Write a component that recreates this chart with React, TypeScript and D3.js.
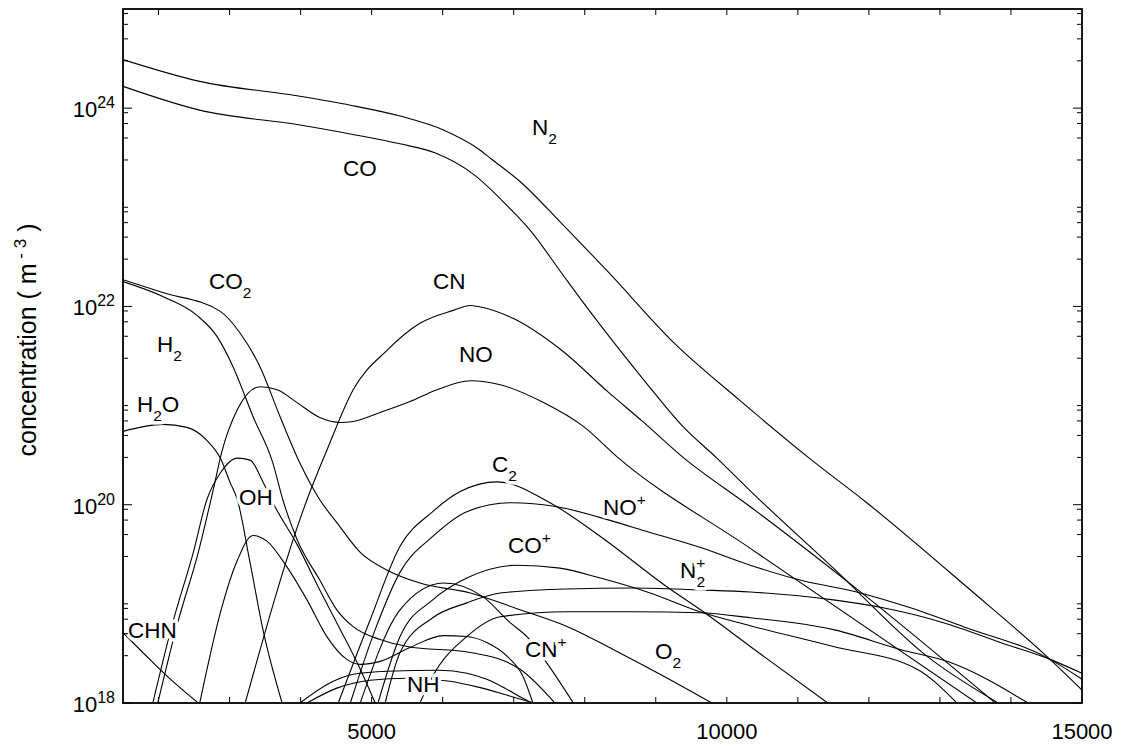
import React from 'react';
import * as d3 from 'd3';

// Each series: [temperature (K), log10 of concentration (m^-3)]
type Pt = [number, number];

const N2: Pt[] = [[1500,24.49],[2580,24.27],[3990,24.12],[4700,24.03],[5400,23.92],[6010,23.78],[6500,23.59],[6680,23.49],[7120,23.24],[7670,22.84],[8340,22.34],[9260,21.63],[10170,21.06],[11160,20.47],[11970,20.02],[13380,19.17],[14550,18.44],[15000,18.13]];
const CO: Pt[] = [[1500,24.22],[2580,23.98],[3990,23.83],[4700,23.74],[5400,23.64],[5890,23.55],[6440,23.33],[6930,23.00],[7230,22.77],[7670,22.34],[8030,21.99],[8830,21.26],[9380,20.79],[9860,20.47],[10330,20.14],[11500,19.36],[12820,18.47],[13820,18.0]];
const CO2: Pt[] = [[1500,22.27],[2060,22.14],[2870,21.95],[3150,21.73],[3430,21.39],[3710,20.89],[3990,20.42],[4270,20.05],[4510,19.82],[4840,19.52],[5220,19.34],[5680,19.21],[6390,19.11],[7090,18.94],[7790,18.76],[8400,18.54],[9060,18.29],[9790,18.0]];
const H2: Pt[] = [[1500,22.25],[2060,22.10],[2540,21.91],[2820,21.70],[3050,21.39],[3330,20.89],[3610,20.42],[3750,20.05],[3950,19.65],[4270,19.24],[4510,18.94],[4740,18.77],[5120,18.64],[5500,18.57],[6390,18.51],[7090,18.34],[7580,18.0]];
const H2O: Pt[] = [[1500,20.74],[2060,20.81],[2400,20.78],[2680,20.65],[2870,20.47],[3010,20.22],[3110,20.05],[3290,19.41],[3470,18.74],[3740,18.0]];
const OH: Pt[] = [[1920,18.0],[2200,18.81],[2490,19.52],[2680,20.05],[2870,20.32],[3110,20.47],[3290,20.45],[3470,20.23],[3640,19.98],[3950,19.60],[4270,19.14],[4560,18.74],[4840,18.34],[5050,18.0]];
const CN: Pt[] = [[3220,18.0],[4090,20.05],[4370,20.55],[4740,21.16],[5220,21.56],[5680,21.83],[6150,21.96],[6390,22.01],[6500,22.00],[6990,21.88],[7670,21.56],[8340,21.13],[8830,20.83],[9380,20.48],[10330,19.98],[11970,19.07],[13780,18.0]];
const NO: Pt[] = [[1990,18.0],[2270,18.81],[2560,19.52],[2770,20.15],[2890,20.53],[3110,20.96],[3430,21.19],[3670,21.16],[3950,21.03],[4270,20.88],[4560,20.83],[4740,20.84],[5120,20.93],[5540,21.04],[5920,21.16],[6390,21.25],[6810,21.21],[7420,21.03],[7980,20.79],[8460,20.48],[10330,19.56],[13520,18.0]];
const C2: Pt[] = [[4530,18.0],[4980,18.84],[5400,19.58],[5860,19.93],[6240,20.13],[6770,20.23],[7510,20.02],[8220,19.68],[9160,19.17],[9670,18.92],[10330,18.57],[11420,18.0]];
const NOp: Pt[] = [[4700,18.0],[5050,18.74],[5400,19.32],[5860,19.68],[6340,19.93],[6950,20.02],[7610,19.98],[8220,19.87],[8920,19.72],[9620,19.57],[10330,19.39],[11030,19.24],[11880,19.11],[12540,18.97],[13330,18.77],[14550,18.44],[15000,18.24]];
const N2p: Pt[] = [[5190,18.0],[5400,18.51],[5860,18.86],[6340,19.01],[6810,19.11],[7750,19.15],[8680,19.16],[9620,19.14],[10330,19.12],[11500,19.04],[12200,18.96],[13140,18.79],[13850,18.61],[14550,18.44],[15000,18.30]];
const COp: Pt[] = [[5090,18.0],[5400,18.67],[5860,19.04],[6340,19.26],[7050,19.39],[7650,19.36],[8220,19.26],[8920,19.11],[9620,18.92],[10330,18.78],[11500,18.57],[12680,18.34],[13240,18.0]];
const O2: Pt[] = [[5680,18.0],[5860,18.27],[6340,18.67],[6810,18.87],[7750,18.92],[8680,18.92],[9620,18.91],[10330,18.86],[11500,18.74],[12440,18.54],[13140,18.41],[14240,18.0]];
const CNp: Pt[] = [[4840,18.0],[5400,18.94],[6010,19.21],[6570,19.07],[6950,18.81],[7200,18.66],[7480,18.39],[7840,18.0]];
const NH: Pt[] = [[3990,18.0],[4460,18.22],[4740,18.29],[5220,18.32],[5960,18.33],[6340,18.30],[6620,18.24],[6900,18.14],[7150,18.04],[7260,18.0]];
const NH2: Pt[] = [[4090,18.0],[4510,18.15],[4980,18.23],[5500,18.25],[6100,18.22],[6500,18.16],[6900,18.08],[7280,18.0]];
const CHN: Pt[] = [[1500,18.71],[1920,18.41],[2230,18.20],[2560,18.0]];
const CH: Pt[] = [[2580,18.0],[2870,18.91],[3110,19.44],[3330,19.69],[3530,19.63],[3810,19.37],[4090,19.04],[4370,18.67],[4650,18.44],[4840,18.39],[5120,18.42],[5540,18.56],[6010,18.68],[6340,18.67],[6620,18.61],[6910,18.47],[7130,18.27],[7270,18.0]];

const series: Pt[][] = [N2, CO, CO2, H2, H2O, OH, CN, NO, C2, NOp, N2p, COp, O2, CNp, NH, NH2, CHN, CH];

// Labels: main text, subscript, superscript, anchor [T, log10 conc]
type Lab = { t: string; sub?: string; sup?: string; t2?: string; at: Pt };
const labels: Lab[] = [
  { t: 'N', sub: '2', at: [7258, 23.73] },
  { t: 'CO', at: [4597, 23.32] },
  { t: 'CO', sub: '2', at: [2711, 22.18] },
  { t: 'H', sub: '2', at: [1979, 21.54] },
  { t: 'H', sub: '2', t2: 'O', at: [1697, 20.94] },
  { t: 'OH', at: [3133, 20.0] },
  { t: 'CN', at: [5864, 22.18] },
  { t: 'NO', at: [6230, 21.44] },
  { t: 'C', sub: '2', at: [6694, 20.33] },
  { t: 'NO', sup: '+', at: [8257, 19.90] },
  { t: 'CO', sup: '+', at: [6920, 19.51] },
  { t: 'N', sub: '2', sup: '+', at: [9341, 19.26] },
  { t: 'CN', sup: '+', at: [7159, 18.46] },
  { t: 'O', sub: '2', at: [8989, 18.44] },
  { t: 'NH', at: [5498, 18.11] },
  { t: 'CHN', at: [1570, 18.66] },
];

const xTickLabels = [5000, 10000, 15000];
const yLabelExps = [18, 20, 22, 24];

const W = 1125, H = 746;
const L = 123, R = 1082, T = 9, B = 703;
const FONT = '"Liberation Sans", Arial, Helvetica, sans-serif';

export default function App() {
  const x = d3.scaleLinear().domain([1500, 15000]).range([L, R]);
  const y = d3.scaleLog().domain([1e18, 1e25]).range([B, T]);
  const line = d3.line<Pt>().x(d => x(d[0])).y(d => y(Math.pow(10, d[1]))).curve(d3.curveMonotoneX);

  const xMinor = d3.range(2000, 15000, 1000);
  const yTicks: { v: number; len: number }[] = [];
  for (let e = 18; e <= 24; e++) {
    yTicks.push({ v: Math.pow(10, e), len: e % 2 === 0 ? 9 : 5 });
    for (const m of [3, 5, 7, 9]) yTicks.push({ v: m * Math.pow(10, e), len: 5 });
  }
  const FS = 22.5, SS = 15.5;

  return (
    <svg width={W} height={H} style={{ position: 'absolute', left: 0, top: 0, background: '#fff' }} fontFamily={FONT}>
      <defs>
        <clipPath id="plot"><rect x={L} y={T} width={R - L} height={B - T} /></clipPath>
      </defs>
      <rect x={0} y={0} width={W} height={H} fill="#fff" />
      <g clipPath="url(#plot)">
        {series.map((s, i) => (
          <path key={i} d={line(s) || ''} fill="none" stroke="#000" strokeWidth={1.1} />
        ))}
      </g>
      {labels.map((lb, i) => {
        const px = x(lb.at[0]);
        const py = y(Math.pow(10, lb.at[1]));
        return (
          <text key={i} x={px} y={py} fontSize={FS} fill="#000" stroke="#fff" strokeWidth={7} paintOrder="stroke" strokeLinejoin="round">
            <tspan>{lb.t}</tspan>
            {lb.sub && lb.sup ? (
              <>
                <tspan fontSize={SS} dy={-10}>{lb.sup}</tspan>
                <tspan fontSize={SS} dx={-8.8} dy={19}>{lb.sub}</tspan>
              </>
            ) : null}
            {lb.sub && !lb.sup ? <tspan fontSize={SS} dy={9}>{lb.sub}</tspan> : null}
            {lb.t2 ? <tspan dy={-9}>{lb.t2}</tspan> : null}
            {lb.sup && !lb.sub ? <tspan fontSize={SS} dy={-10}>{lb.sup}</tspan> : null}
          </text>
        );
      })}
      <rect x={L} y={T} width={R - L} height={B - T} fill="none" stroke="#000" strokeWidth={1.8} />
      {xMinor.map(v => (
        <g key={v}>
          <line x1={x(v)} x2={x(v)} y1={B} y2={B - 6} stroke="#000" strokeWidth={1} />
          <line x1={x(v)} x2={x(v)} y1={T} y2={T + 6} stroke="#000" strokeWidth={1} />
        </g>
      ))}
      {yTicks.map((t, i) => (
        <g key={i}>
          <line x1={L} x2={L + t.len} y1={y(t.v)} y2={y(t.v)} stroke="#000" strokeWidth={1} />
          <line x1={R} x2={R - t.len} y1={y(t.v)} y2={y(t.v)} stroke="#000" strokeWidth={1} />
        </g>
      ))}
      {xTickLabels.map(v => (
        <text key={v} x={x(v)} y={B + 36} fontSize={22} textAnchor="middle">{v}</text>
      ))}
      {yLabelExps.map(e => (
        <text key={e} x={L - 8} y={y(Math.pow(10, e))} fontSize={22} textAnchor="end">
          <tspan dy={9}>10</tspan>
          <tspan fontSize={16} dy={-9}>{e}</tspan>
        </text>
      ))}
      <text transform={`translate(36, 340) rotate(-90)`} fontSize={25} textAnchor="middle">
        concentration ( m<tspan fontSize={17} dy={-10}> - 3</tspan><tspan dy={10}> )</tspan>
      </text>
    </svg>
  );
}
